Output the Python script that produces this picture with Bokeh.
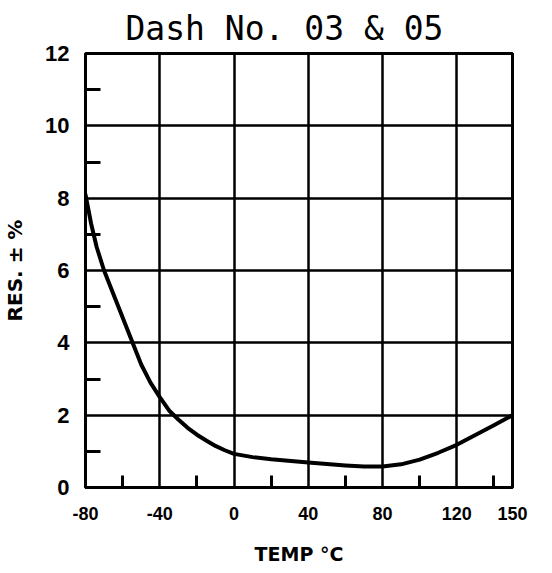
from bokeh.plotting import figure
from bokeh.models import Range1d, FixedTicker
from bokeh.embed import file_html
from bokeh.resources import INLINE

# Data
temp_c = [-80, -77, -74, -70, -65, -60, -55, -50, -45, -40, -35, -30, -25, -20, -15, -10, -5,
          0, 10, 20, 40, 60, 70, 80, 90, 100, 110, 120, 130, 140, 150]
res_pct = [8.1, 7.3, 6.65, 6.0, 5.35, 4.7, 4.05, 3.4, 2.9, 2.5, 2.13, 1.88, 1.65, 1.46, 1.3, 1.15, 1.03,
           0.93, 0.84, 0.78, 0.69, 0.61, 0.58, 0.58, 0.64, 0.77, 0.96, 1.18, 1.45, 1.72, 2.0]

x_major = [-80, -40, 0, 40, 80, 120, 150]
x_minor = [-60, -20, 20, 60, 100, 140]
y_major = [0, 2, 4, 6, 8, 10, 12]
y_minor = [1, 3, 5, 7, 9, 11]
x_labels = {-80: "-80", -40: "-40", 0: "0", 40: "40", 80: "80", 120: "120", 150: "150"}

p = figure(frame_width=427, frame_height=434,
           x_range=Range1d(-80, 150), y_range=Range1d(0, 12),
           output_backend="svg", toolbar_location=None,
           min_border_left=84, min_border_right=25, min_border_top=51, min_border_bottom=72,
           title="Dash No. 03 & 05")

p.title.text_font = "DejaVu Sans Mono"
p.title.text_font_size = "33px"
p.title.text_font_style = "normal"
p.title.align = "left"
p.title.offset = 40
p.title.standoff = 12
p.title.text_color = "black"

p.outline_line_color = "black"
p.outline_line_width = 3
p.outline_line_alpha = 1.0

xt = FixedTicker(ticks=x_major, minor_ticks=x_minor)
yt = FixedTicker(ticks=y_major, minor_ticks=y_minor)

for ax in (p.xaxis[0], p.yaxis[0]):
    ax.axis_line_color = "black"
    ax.axis_line_width = 3
    ax.major_tick_in = 0
    ax.major_tick_out = 0
    ax.minor_tick_out = 0
    ax.minor_tick_line_color = "black"
    ax.minor_tick_line_width = 3
    ax.major_label_text_font = "Liberation Sans"
    ax.major_label_text_font_style = "bold"
    ax.major_label_text_color = "black"
    ax.axis_label_text_font = "DejaVu Sans"
    ax.axis_label_text_font_style = "bold"
    ax.axis_label_text_color = "black"

p.xaxis[0].ticker = xt
p.xaxis[0].minor_tick_in = 12
p.xaxis[0].major_label_overrides = x_labels
p.xaxis[0].major_label_text_font_size = "18px"
p.xaxis[0].major_label_standoff = 19
p.xaxis[0].axis_label = "TEMP °C"
p.xaxis[0].axis_label_text_font_size = "19px"
p.xaxis[0].axis_label_standoff = 20

p.yaxis[0].ticker = yt
p.yaxis[0].minor_tick_in = 15
p.yaxis[0].major_label_text_font_size = "22px"
p.yaxis[0].major_label_standoff = 16
p.yaxis[0].axis_label = "RES. ± %"
p.yaxis[0].axis_label_text_font_size = "20px"
p.yaxis[0].axis_label_standoff = 15

p.xgrid[0].ticker = xt
p.ygrid[0].ticker = yt
for g in (p.xgrid[0], p.ygrid[0]):
    g.grid_line_color = "black"
    g.grid_line_width = 2.5
    g.grid_line_alpha = 1.0

p.line(temp_c, res_pct, line_color="black", line_width=4, line_join="round", line_cap="round")

open("out.html", "w").write(file_html(p, INLINE))
